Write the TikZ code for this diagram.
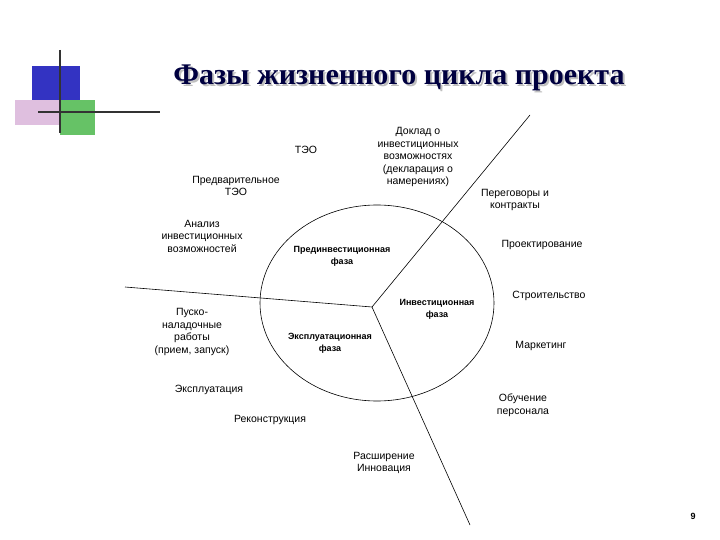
\documentclass[tikz,border=0pt]{standalone}
\usepackage{fontspec}
\setmainfont{Liberation Sans}
\setsansfont{Liberation Sans}
\newfontfamily\titlefont{Liberation Serif}[BoldFont={Liberation Serif Bold}]
\begin{document}
\begin{tikzpicture}[x=1pt,y=-1pt,
  lbl/.style={align=center,font=\fontsize{10.5}{12.5}\selectfont,inner sep=1pt},
  ph/.style={align=center,font=\bfseries\fontsize{9}{12}\selectfont,inner sep=1pt},
  ttl/.style={font=\titlefont\bfseries\fontsize{30}{34}\selectfont},
  ln/.style={line width=0.6pt}]
\useasboundingbox (0,0) rectangle (720,540);
% decoration
\fill[blue!70!black!80] (32,66) rectangle (80,100);
\fill[violet!25] (15,100) rectangle (60,125);
\fill[green!60!black!60] (60,100) rectangle (95,135);
\draw[line width=2pt,black!80] (60,50) -- (60,133);
\draw[line width=2pt,black!80] (38,112) -- (160,112);
\node[ttl,text=black!25] (tshadow) at (401,80) {Фазы жизненного цикла проекта};
\node[ttl,text=blue!25!black] (title) at (399,78) {Фазы жизненного цикла проекта};
% circle
\coordinate (c) at (372,307);
\draw[ln] (377,303) ellipse [x radius=117, y radius=98];
\coordinate (e1) at (530,115);
\coordinate (e2) at (125,287);
\coordinate (e3) at (470,525);
\draw[ln] (c) -- (e1);
\draw[ln] (c) -- (e2);
\draw[ln] (c) -- (e3);
\node[ph] (p1) at (342,256) {Прединвестиционная\\фаза};
\node[ph] (p2) at (437,309) {Инвестиционная\\фаза};
\node[ph] (p3) at (330,343) {Эксплуатационная\\фаза};
% labels
\node[lbl] (a) at (306,150) {ТЭО};
\node[lbl] (b) at (236,186) {Предварительное\\ТЭО};
\node[lbl] (cc) at (202,236) {Анализ\\инвестиционных\\возможностей};
\node[lbl] (d) at (418,157) {Доклад о\\инвестиционных\\возможностях\\(декларация о\\намерениях)};
\node[lbl] (e) at (515,200) {Переговоры и\\контракты};
\node[lbl] (f) at (542,245) {Проектирование};
\node[lbl] (g) at (549,296) {Строительство};
\node[lbl] (h) at (541,346) {Маркетинг};
\node[lbl] (i) at (523,405) {Обучение\\персонала};
\node[lbl] (j) at (192,332) {Пуско-\\наладочные\\работы\\(прием, запуск)};
\node[lbl] (k) at (209,390) {Эксплуатация};
\node[lbl] (l) at (270,420) {Реконструкция};
\node[lbl] (m) at (384,463) {Расширение\\Инновация};
\node[font=\bfseries\fontsize{9}{11}\selectfont] (n) at (693,516) {9};
\end{tikzpicture}
\end{document}
